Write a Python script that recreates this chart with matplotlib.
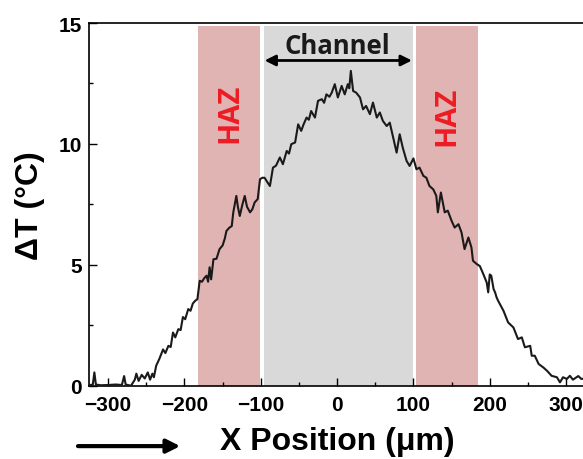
import matplotlib
matplotlib.use("Agg")
import matplotlib.pyplot as plt
from matplotlib.ticker import MultipleLocator

# Temperature rise profile across the channel
x_um = [
    -325, -320, -318, -316, -310, -300, -290, -282, -279, -277, -270, -265, -263, -260,
    -256, -252, -248, -245, -242, -240, -237, -233, -228, -225, -221, -218, -215, -212,
    -208, -205, -202, -199, -195, -192, -189, -186, -183, -180, -177, -174, -171, -169,
    -167, -165, -162, -158, -154, -150, -147, -145, -141, -138, -136, -132, -130, -127.5,
    -124, -121, -118, -114, -111, -108, -104, -101, -98, -95, -91, -88, -84, -80,
    -75, -71, -66, -63, -60, -55, -51, -47, -44, -40, -37, -34, -29, -25,
    -20, -17, -14, -10, -7, -3, 1, 4, 6, 10, 14, 16, 18, 21,
    25, 30, 34, 38, 43, 47, 52, 56, 60, 65, 69, 73, 78, 82,
    86, 91, 95, 100, 104, 108, 113, 117, 121, 126, 130, 132, 136, 141,
    145, 150, 154, 159, 163, 167, 172, 176, 178, 183, 187, 191, 196, 198,
    200, 202, 205, 207, 209, 211, 218, 224, 231, 237, 242, 246, 253, 255,
    259, 264, 270, 275, 281, 288, 292, 296, 301, 305, 309, 316, 320, 325,
]
delta_t = [
    0.02, 0.05, 0.55, 0.05, 0.02, 0.03, 0.05, 0.03, 0.40, 0.05, 0.00, 0.25, 0.50, 0.20,
    0.45, 0.30, 0.55, 0.25, 0.50, 0.35, 0.83, 1.10, 1.50, 1.35, 1.65, 1.60, 2.20, 2.00,
    2.34, 2.30, 2.84, 2.75, 3.17, 3.10, 3.40, 3.51, 3.58, 4.34, 4.30, 4.45, 4.55, 4.30,
    4.90, 4.40, 5.23, 5.25, 5.65, 5.80, 6.10, 6.40, 6.54, 6.60, 7.17, 7.85, 7.40, 7.02,
    7.50, 7.85, 7.40, 7.17, 7.30, 7.58, 7.72, 8.54, 8.60, 8.60, 8.40, 8.26, 9.02, 9.10,
    9.44, 9.16, 9.71, 9.60, 9.99, 10.06, 10.81, 10.54, 10.80, 11.09, 11.00, 11.36, 11.09, 11.78,
    11.85, 11.70, 12.05, 11.95, 12.12, 12.47, 11.92, 12.20, 12.40, 12.05, 12.47, 12.30, 13.02, 12.19,
    12.12, 11.92, 11.43, 11.57, 11.23, 11.71, 11.09, 11.30, 10.95, 10.74, 10.88, 10.33, 9.64, 10.40,
    9.85, 9.30, 9.09, 9.40, 8.95, 9.02, 8.68, 8.60, 8.26, 8.12, 7.85, 7.17, 7.99, 7.17,
    7.24, 6.82, 6.54, 6.68, 6.34, 5.65, 6.13, 5.72, 5.17, 5.03, 4.95, 4.66, 4.27, 3.86,
    4.60, 4.55, 4.00, 3.86, 3.65, 3.51, 3.10, 2.62, 2.41, 1.93, 2.00, 1.59, 1.65, 1.24,
    1.24, 0.90, 0.76, 0.62, 0.41, 0.35, 0.14, 0.35, 0.28, 0.41, 0.25, 0.40, 0.28, 0.30,
]

# Zone boundaries (um)
haz_left = (-182, -101)
channel = (-96, 99)
haz_right = (103, 184)
shade_top = 14.88

HAZ_COLOR = "#e1b4b4"
CHANNEL_COLOR = "#d9d9d9"
HAZ_TEXT = "#ee1c25"

plt.rcParams["font.family"] = ["Liberation Sans", "DejaVu Sans"]
plt.rcParams["font.weight"] = "bold"

fig = plt.figure(figsize=(5.83, 4.60), dpi=100)
ax = fig.add_axes([0.1527, 0.1593, 0.851, 0.7885])

for (x0, x1), c in [(haz_left, HAZ_COLOR), (channel, CHANNEL_COLOR), (haz_right, HAZ_COLOR)]:
    ax.fill_between([x0, x1], 0, shade_top, color=c, lw=0, zorder=0)

ax.plot(x_um, delta_t, color="#1a1a1a", lw=1.5, zorder=3)

ax.set_xlim(-325, 325)
ax.set_ylim(0, 15)
ax.xaxis.set_major_locator(MultipleLocator(100))
ax.xaxis.set_minor_locator(MultipleLocator(50))
ax.yaxis.set_major_locator(MultipleLocator(5))
ax.yaxis.set_minor_locator(MultipleLocator(2.5))
ax.tick_params(which="both", direction="in", width=1.0, labelsize=15)
ax.tick_params(which="major", length=5.5)
ax.tick_params(which="minor", length=3)
ax.tick_params(axis="x", pad=7)
ax.tick_params(axis="y", pad=5)
for lab in ax.get_xticklabels() + ax.get_yticklabels():
    lab.set_fontweight("bold")
for sp in ax.spines.values():
    sp.set_linewidth(1.2)

ax.set_xlabel("X Position (\u03bcm)", fontsize=23, fontweight="bold", labelpad=8)
ax.set_ylabel("\u0394T (\u00b0C)", fontsize=23, fontweight="bold", labelpad=10)

# Zone labels
ax.text(-141, 11.3, "HAZ", rotation=90, color=HAZ_TEXT, fontsize=21,
        fontweight="bold", family=["Open Sans", "DejaVu Sans"], ha="center", va="center")
ax.text(144, 11.2, "HAZ", rotation=90, color=HAZ_TEXT, fontsize=21,
        fontweight="bold", family=["Open Sans", "DejaVu Sans"], ha="center", va="center")
ax.text(0, 14.05, "Channel", color="#1a1a1a", fontsize=18.5, fontweight="bold",
        family=["Open Sans", "DejaVu Sans"], ha="center", va="center")
ax.annotate("", xy=(channel[0] + 1, 13.45), xytext=(channel[1] - 1, 13.45),
            arrowprops=dict(arrowstyle="<|-|>", color="black", lw=2,
                            mutation_scale=16, shrinkA=0, shrinkB=0))

# Scan direction arrow under the axis
fig.add_artist(matplotlib.patches.FancyArrowPatch(
    (0.129, 0.028), (0.314, 0.028), transform=fig.transFigure,
    arrowstyle="-|>", mutation_scale=20, lw=3, color="black"))

fig.savefig("out.png", dpi=100)
